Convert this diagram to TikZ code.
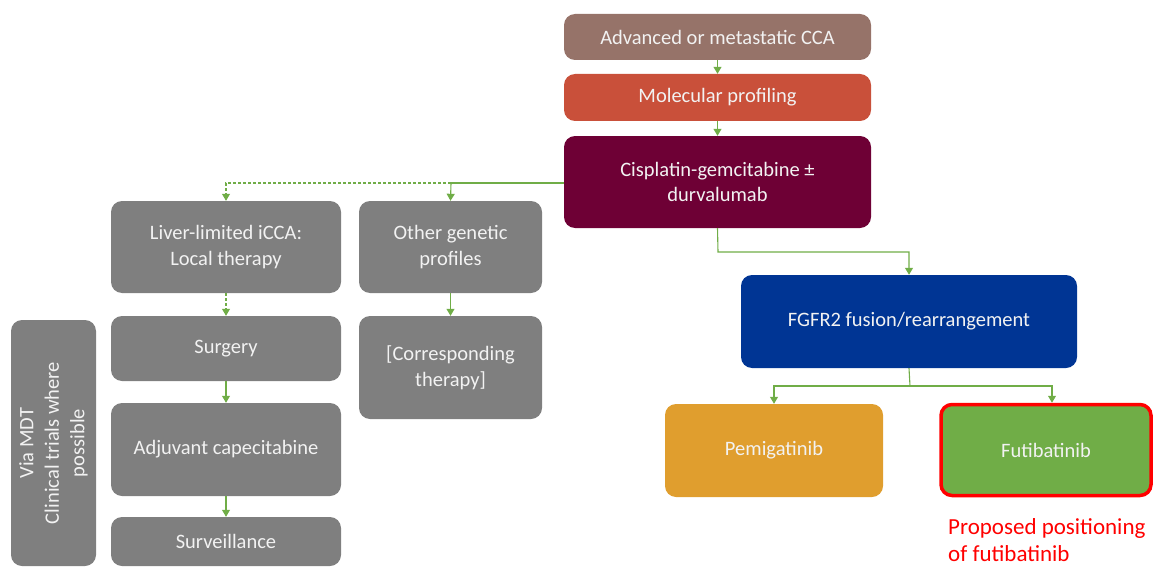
\documentclass[tikz,border=0pt]{standalone}
\usepackage{fontspec}
\setmainfont{Carlito}
\usetikzlibrary{arrows.meta,positioning}
\definecolor{cbrown}{HTML}{967369}
\definecolor{corange}{HTML}{C9503A}
\definecolor{cmaroon}{HTML}{6E0035}
\definecolor{cgray}{HTML}{7F7F7F}
\definecolor{cblue}{HTML}{003594}
\definecolor{cgold}{HTML}{E09E2E}
\definecolor{cgreen}{HTML}{70AD47}
\definecolor{ctext}{HTML}{F2F2F2}
\definecolor{cred}{HTML}{FF0000}
\tikzset{
  box/.style={rounded corners=11pt, text=ctext, align=center, font=\fontsize{20.5}{25.5}\selectfont},
  conn/.style={draw=cgreen, line width=1.1pt, -{Triangle[width=8pt,length=7pt]}},
  dconn/.style={conn, dashed, dash pattern=on 3pt off 2pt},
}
\begin{document}
\begin{tikzpicture}[x=1pt,y=-1pt]
\useasboundingbox (0,0) rectangle (1153,567);
% boxes
\node[box, fill=cbrown, minimum width=307pt, minimum height=46pt] (adv) at (717.5,37) {Advanced or metastatic CCA};
\node[box, fill=corange, minimum width=307pt, minimum height=47pt] (mol) at (717.5,97.5) {Molecular profiling};
\node[box, fill=cmaroon, minimum width=307pt, minimum height=92pt] (cis) at (717.5,182) {Cisplatin-gemcitabine ±\\durvalumab};
\node[box, fill=cgray, minimum width=230pt, minimum height=92pt] (liv) at (226,247) {Liver-limited iCCA:\\Local therapy};
\node[box, fill=cgray, minimum width=183pt, minimum height=92pt] (oth) at (450.5,247) {Other genetic\\profiles};
\node[box, fill=cgray, minimum width=230pt, minimum height=65pt] (sur) at (226,348.5) {Surgery};
\node[box, fill=cgray, minimum width=230pt, minimum height=93pt] (adj) at (226,449.5) {Adjuvant capecitabine};
\node[box, fill=cgray, minimum width=230pt, minimum height=49pt] (svl) at (226,541.5) {Surveillance};
\node[box, fill=cgray, minimum width=85pt, minimum height=246pt] (mdt) at (53.5,443) {};
\node[text=ctext, align=center, rotate=90, font=\fontsize{20.5}{25.5}\selectfont] (mdttext) at (mdt.center) {Via MDT\\Clinical trials where\\possible};
\node[box, fill=cgray, minimum width=183pt, minimum height=103pt] (cor) at (450.5,367.5) {[Corresponding\\therapy]};
\node[box, fill=cblue, minimum width=336pt, minimum height=93pt] (fgf) at (909,321.5) {FGFR2 fusion/rearrangement};
\node[box, fill=cgold, minimum width=218pt, minimum height=93pt] (pem) at (774,450.5) {Pemigatinib};
\node[box, fill=cgreen, draw=cred, line width=3.5pt, minimum width=210pt, minimum height=91pt] (fut) at (1046,450) {Futibatinib};
\node[text=cred, align=left, anchor=west, inner sep=0pt, font=\fontsize{23}{27}\selectfont] (lab) at (948,540) {Proposed positioning\\of futibatinib};
% connectors
\draw[conn] (adv.south) -- (mol.north);
\draw[conn] (mol.south) -- (cis.north);
\coordinate (j1) at (451,183);
\draw[draw=cgreen, line width=1.1pt] (cis.west |- j1) -- (j1);
\draw[conn] (j1) -- (oth.north);
\draw[dconn] (j1) -| (liv.north);
\draw[dconn] (liv.south) -- (sur.north);
\draw[conn] (sur.south) -- (adj.north);
\draw[conn] (adj.south) -- (svl.north);
\draw[conn] (oth.south) -- (cor.north);
\coordinate (j2) at (718,252);
\draw[conn] (cis.south) -- (j2) -| (fgf.north);
\coordinate (j3) at (910,386);
\draw[draw=cgreen, line width=1.1pt] (fgf.south |- fgf.south) -- (j3);
\draw[conn] (j3) -| (pem.north);
\draw[conn] (j3) -| ([xshift=6pt]fut.north);
\end{tikzpicture}
\end{document}
